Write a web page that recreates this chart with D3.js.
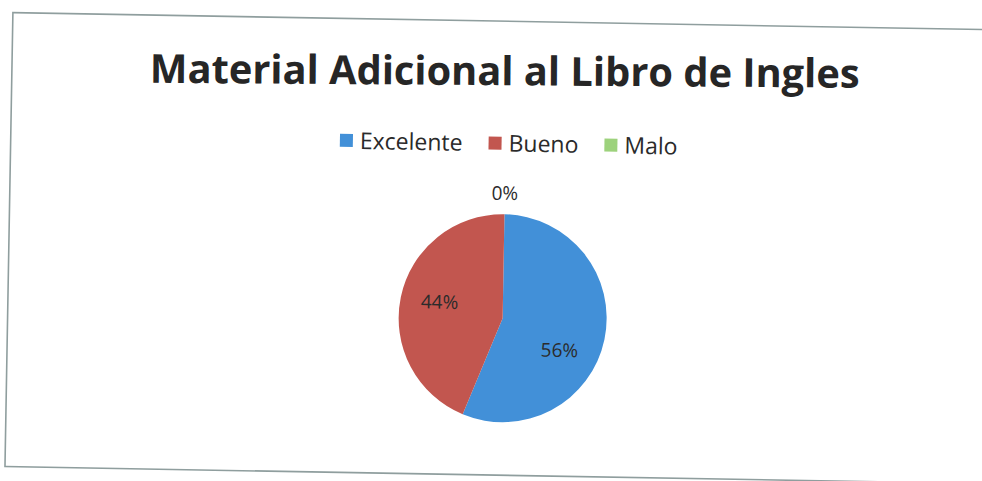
<!DOCTYPE html>
<html>
<head>
<meta charset="utf-8">
<script src="https://cdn.jsdelivr.net/npm/d3@7"></script>
<style>
  html, body { margin: 0; padding: 0; background: #fff; }
  svg { display: block; }
</style>
</head>
<body>
<svg id="chart" width="982" height="481"></svg>
<script>
const title = "Material Adicional al Libro de Ingles";
const categories = ["Excelente", "Bueno", "Malo"];
const values = [56, 44, 0];
const colors = ["#4290d8", "#c2564f", "#9dd27c"];

// small per-label offsets to mimic Excel "best fit" placement
const labelNudge = { Excelente: [-6, 19], Bueno: [0, -3], Malo: [0, 0] };

const svg = d3.select("#chart");
const width = +svg.attr("width");
const height = +svg.attr("height");
const font = "'Open Sans', 'Noto Sans', sans-serif";

// the scanned chart sits slightly rotated on the page
const root = svg.append("g").attr("transform", `rotate(1, ${width / 2}, ${height / 2})`);

root.append("rect")
  .attr("x", 9).attr("y", 21)
  .attr("width", 1100).attr("height", 454)
  .attr("fill", "#fff")
  .attr("stroke", "#8f9e9e")
  .attr("stroke-width", 1.6);

// title, sized to the width it takes in the picture
const t = root.append("text")
  .attr("x", 502).attr("y", 85)
  .attr("transform", "rotate(-0.6, 502, 85)")
  .attr("text-anchor", "middle")
  .attr("font-family", font)
  .attr("font-weight", "bold")
  .attr("font-size", 40)
  .attr("fill", "#262626")
  .text(title);
const tw = t.node().getComputedTextLength();
t.attr("font-size", 40 * 710 / tw);

// legend
const legendFont = 23;
const sq = 13;
const gap = 7;
const spacing = 26;
const legend = root.append("g");
const items = legend.selectAll("g.item")
  .data(categories)
  .enter().append("g").attr("class", "item");
items.append("rect")
  .attr("width", sq).attr("height", sq)
  .attr("y", -sq / 2)
  .attr("fill", (d, i) => colors[i]);
items.append("text")
  .attr("x", sq + gap)
  .attr("dy", "0.36em")
  .attr("font-family", font)
  .attr("font-size", legendFont)
  .attr("fill", "#2a2a2a")
  .text(d => d);
let xPos = 0;
items.each(function () {
  const g = d3.select(this);
  g.attr("transform", `translate(${xPos},0)`);
  xPos += sq + gap + g.select("text").node().getComputedTextLength() + spacing;
});
const legendW = xPos - spacing;
legend.attr("transform", `translate(${507 - legendW / 2},143)`);

// pie
const cx = 504, cy = 318, radius = 104;
const pie = d3.pie().sort(null).value(d => d.value);
const arcs = pie(categories.map((c, i) => ({ name: c, value: values[i] })));
const total = d3.sum(values);

const arc = d3.arc().innerRadius(0).outerRadius(radius);
const labelArc = d3.arc().innerRadius(radius * 0.62).outerRadius(radius * 0.62);
const outerArc = d3.arc().innerRadius(radius + 21).outerRadius(radius + 21);

const pg = root.append("g").attr("transform", `translate(${cx},${cy})`);
pg.selectAll("path")
  .data(arcs)
  .enter().append("path")
  .attr("d", arc)
  .attr("fill", (d, i) => colors[i]);

pg.selectAll("text")
  .data(arcs)
  .enter().append("text")
  .attr("transform", d => {
    const p = d.value === 0 ? outerArc.centroid(d) : labelArc.centroid(d);
    const n = labelNudge[d.data.name];
    return `translate(${p[0] + n[0]},${p[1] + n[1]})`;
  })
  .attr("text-anchor", "middle")
  .attr("dy", "0.35em")
  .attr("font-family", font)
  .attr("font-size", 19)
  .attr("fill", "#2b2b2b")
  .text(d => Math.round(d.value / total * 100) + "%");
</script>
</body>
</html>
